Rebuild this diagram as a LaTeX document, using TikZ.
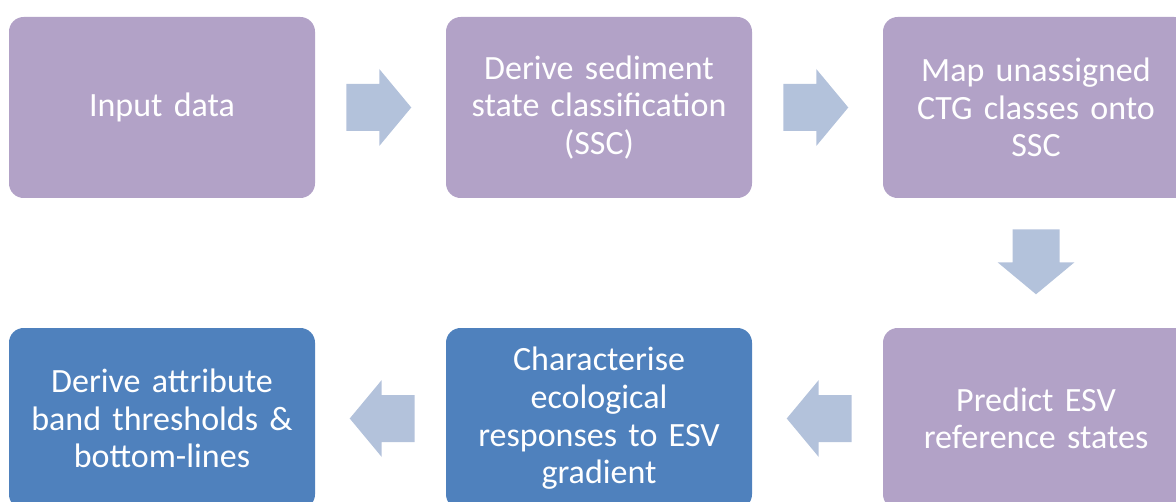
\documentclass[tikz,border=0pt]{standalone}
\usepackage{fontspec}
\setmainfont{Carlito}[WordSpace=0.85]
\usetikzlibrary{calc}

\definecolor{stagepurple}{HTML}{B2A2C7}
\definecolor{stageblue}{HTML}{4F81BD}
\definecolor{flowfill}{HTML}{B3C2DB}

\tikzset{
  stage/.style={rectangle,rounded corners=11pt,fill=stagepurple,
    minimum width=229.5pt,minimum height=135.75pt,text width=215pt,
    align=center,text=white,font=\fontsize{25.5}{28.2}\selectfont},
  result/.style={stage,fill=stageblue},
  flowarrow/.pic={
    \fill[flowfill] (0,-23.5) -- (33,-23.5) -- (33,-38.5) -- (65,0)
      -- (33,38.5) -- (33,23.5) -- (0,23.5) -- cycle;
  }
}

\begin{document}
\begin{tikzpicture}[x=0.75pt,y=-0.75pt]
        \useasboundingbox (0,0) rectangle (1176,502);
        \clip (0,0) rectangle (1176,502);
        % Top row
        \node[stage] (input) at (162,107.5) {Input data};
        \node[stage] (ssc) at (599,107.5) {Derive sediment\\state classification\\(SSC)};
        \node[stage] (map) at (1036,107.5) {Map unassigned\\CTG classes onto\\SSC};
        % Bottom row
        \node[stage] (predict) at (1036,418.5) {Predict ESV\\reference states};
        \node[result] (respond) at (599,418.5) {Characterise\\ecological\\responses to ESV\\gradient};
        \node[result] (bands) at (162,418.5) {Derive attribute\\band thresholds \&\\bottom-lines};
        % Flow arrows
        \pic at ($(input.east)+(31,0)$) {flowarrow};
        \pic at ($(ssc.east)+(31,0)$) {flowarrow};
        \pic[rotate=-90] at ($(map.south)+(0,31)$) {flowarrow};
        \pic[rotate=180] at ($(predict.west)+(-31,0)$) {flowarrow};
        \pic[rotate=180] at ($(respond.west)+(-31,0)$) {flowarrow};
      \end{tikzpicture}
\end{document}
